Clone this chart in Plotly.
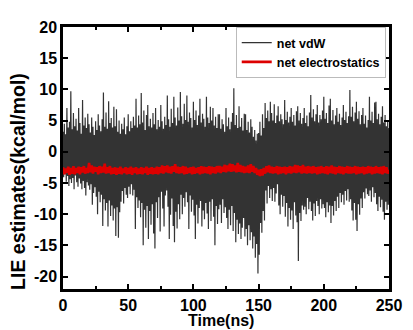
import plotly.graph_objects as go

# ---- data ----
vdw_step_ns = 0.5
vdw_values = [
    3.2, -4.1, 4.5, -3.6, 2.8, -4.8, 7.0, -3.9, 3.9, -5.5,
    4.8, -4.4, 9.7, -5.0, 3.6, -4.2, 6.2, -6.0, 4.1, -3.8,
    5.3, -4.9, 3.4, -5.6, 7.0, -4.3, 4.6, -5.1, 2.9, -6.0,
    8.3, -4.7, 4.2, -5.8, 5.5, -7.0, 3.8, -4.9, 6.1, -5.4,
    4.4, -6.1, 3.1, -5.2, 5.5, -8.5, 4.0, -6.6, 2.7, -5.7,
    4.9, -7.2, 3.5, -10.0, 6.0, -6.4, 4.2, -8.1, 3.3, -6.9,
    5.2, -11.9, 9.5, -7.6, 4.0, -9.4, 6.3, -8.2, 3.7, -12.0,
    8.1, -7.8, 4.6, -10.3, 5.4, -8.6, 3.9, -11.0, 7.2, -9.1,
    4.1, -13.5, 6.8, -8.9, 3.2, -13.8, 5.0, -9.7, 2.9, -8.0,
    4.5, -6.3, 3.6, -8.3, 5.5, -5.8, 2.8, -6.9, 4.1, -7.4,
    6.0, -5.6, 3.3, -6.8, 4.9, -5.2, 3.8, -7.0, 5.6, -6.1,
    4.2, -12.4, 8.5, -7.3, 3.9, -9.0, 5.8, -7.8, 4.4, -10.5,
    9.4, -8.2, 4.7, -15.0, 6.6, -9.3, 3.5, -12.2, 5.9, -8.7,
    7.5, -14.0, 4.1, -9.5, 5.3, -11.7, 3.9, -8.4, 6.2, -13.1,
    4.4, -15.5, 7.0, -8.1, 3.6, -10.6, 5.1, -7.3, 4.0, -12.8,
    7.5, -6.4, 4.9, -9.1, 3.7, -12.0, 5.6, -7.0, 4.3, -6.2,
    9.0, -8.8, 5.2, -14.0, 4.0, -10.1, 6.9, -7.5, 4.6, -11.9,
    8.8, -14.5, 5.5, -9.6, 4.2, -12.3, 7.1, -8.4, 5.0, -10.8,
    9.6, -6.9, 5.7, -10.0, 4.5, -7.4, 7.7, -8.8, 5.1, -6.5,
    9.0, -8.1, 4.8, -12.4, 6.3, -7.0, 5.4, -9.6, 3.9, -7.7,
    8.0, -10.2, 5.1, -14.0, 6.6, -8.5, 4.3, -11.5, 5.8, -9.0,
    8.5, -7.9, 4.7, -12.0, 6.1, -9.4, 5.3, -10.8, 4.0, -8.2,
    8.8, -9.9, 5.5, -12.4, 4.6, -8.0, 7.2, -11.1, 5.0, -7.6,
    7.0, -10.4, 4.2, -15.0, 5.6, -8.7, 3.8, -11.6, 6.0, -9.2,
    6.0, -8.5, 3.7, -11.4, 5.2, -7.6, 4.4, -9.8, 3.2, -8.9,
    7.0, -10.6, 4.1, -12.4, 5.5, -9.3, 3.6, -11.8, 4.8, -8.7,
    6.2, -12.7, 10.2, -9.8, 4.3, -14.5, 5.9, -10.9, 3.8, -13.2,
    7.3, -11.5, 4.0, -14.0, 5.4, -12.2, 3.4, -10.6, 6.1, -13.6,
    6.0, -12.4, 3.5, -15.0, 4.8, -11.8, 3.1, -14.2, 5.2, -12.9,
    4.0, -15.5, 2.4, -13.6, 3.5, -17.0, 1.8, -14.8, 2.9, -19.5,
    3.0, -16.5, 4.8, -11.4, 2.6, -13.0, 6.0, -9.5, 3.8, -11.0,
    7.8, -6.2, 5.4, -8.3, 6.6, -5.5, 4.9, -7.4, 8.0, -6.0,
    6.2, -7.9, 5.0, -5.8, 7.6, -8.0, 4.6, -6.7, 5.8, -5.2,
    7.3, -8.6, 4.9, -10.0, 6.0, -6.9, 5.2, -8.8, 4.4, -7.1,
    8.3, -10.4, 5.1, -8.2, 6.4, -12.0, 4.7, -9.0, 5.6, -10.9,
    7.0, -9.4, 4.8, -12.4, 5.9, -8.1, 4.2, -10.2, 6.5, -11.3,
    7.3, -17.5, 5.0, -9.8, 6.2, -11.1, 4.5, -8.6, 5.4, -9.3,
    7.0, -8.8, 4.6, -10.0, 5.8, -7.4, 4.1, -9.2, 6.3, -8.0,
    9.1, -9.5, 5.5, -11.0, 6.8, -8.3, 4.9, -10.3, 6.0, -7.9,
    7.5, -8.7, 4.7, -10.0, 5.9, -7.6, 5.2, -9.1, 6.6, -8.4,
    8.8, -9.0, 5.3, -10.5, 6.2, -8.1, 4.6, -9.7, 7.4, -8.6,
    8.5, -11.4, 5.0, -8.7, 6.7, -10.2, 4.4, -7.9, 5.8, -9.5,
    7.0, -7.2, 4.8, -9.0, 6.1, -6.6, 4.3, -8.1, 5.5, -6.9,
    7.5, -8.5, 5.1, -6.3, 6.4, -7.8, 4.6, -6.0, 5.7, -8.0,
    9.9, -7.6, 5.6, -9.4, 7.2, -11.0, 4.9, -8.2, 6.3, -10.9,
    8.0, -12.7, 5.3, -8.4, 6.5, -10.1, 4.4, -7.5, 5.9, -9.0,
    7.0, -6.5, 4.5, -7.5, 5.8, -5.9, 3.9, -6.8, 5.1, -7.1,
    8.8, -6.2, 5.0, -8.0, 6.4, -5.7, 4.6, -7.3, 7.9, -6.6,
    8.0, -8.4, 5.2, -9.5, 6.1, -7.2, 4.4, -8.9, 5.6, -7.7,
    7.3, -9.6, 4.7, -10.9, 5.9, -8.0, 4.1, -9.3, 5.0, -8.5,
    3.8,
]

elec_step_ns = 1.0
elec_values = [
    -2.5, -3.6, -2.7, -3.4, -2.4, -3.7, -2.6, -3.5, -2.3, -3.6,
    -2.6, -3.4, -2.4, -3.6, -2.5, -3.3, -2.3, -3.5, -2.6, -3.4,
    -1.8, -3.3, -2.2, -3.5, -2.4, -3.2, -2.5, -3.6, -2.3, -3.4,
    -2.4, -3.3, -1.9, -3.5, -2.5, -3.4, -2.3, -3.6, -2.6, -3.5,
    -2.5, -3.7, -2.6, -3.5, -2.4, -3.6, -2.7, -3.4, -2.5, -3.6,
    -2.6, -3.5, -2.4, -3.7, -2.6, -3.4, -2.5, -3.6, -2.7, -3.5,
    -2.5, -3.6, -2.6, -3.4, -2.4, -3.7, -2.6, -3.5, -2.5, -3.6,
    -2.6, -3.5, -2.4, -3.6, -2.5, -3.4, -2.2, -3.5, -2.3, -3.3,
    -2.2, -3.4, -2.4, -3.5, -2.3, -3.2, -2.0, -3.4, -2.4, -3.5,
    -2.5, -3.4, -2.3, -3.6, -2.4, -3.5, -2.6, -3.4, -2.5, -3.6,
    -2.4, -3.5, -2.6, -3.4, -2.5, -3.6, -2.3, -3.5, -2.4, -3.4,
    -2.5, -3.5, -2.3, -3.6, -2.4, -3.4, -2.5, -3.5, -2.3, -3.3,
    -2.3, -3.4, -2.4, -3.2, -2.1, -3.3, -2.2, -3.1, -1.9, -3.2,
    -2.0, -3.1, -2.2, -3.3, -1.8, -3.2, -2.1, -3.3, -2.3, -3.4,
    -2.4, -3.3, -2.2, -3.4, -2.0, -3.2, -2.3, -3.4, -2.6, -3.7,
    -2.9, -3.9, -2.8, -3.8, -2.6, -3.5, -2.3, -3.3, -2.2, -3.4,
    -2.4, -3.5, -2.5, -3.4, -2.3, -3.6, -2.4, -3.5, -2.5, -3.4,
    -2.4, -3.6, -2.5, -3.4, -2.3, -3.5, -2.4, -3.3, -2.1, -3.4,
    -2.2, -3.3, -2.3, -3.5, -2.1, -3.4, -2.4, -3.5, -2.3, -3.4,
    -2.4, -3.5, -2.3, -3.4, -2.5, -3.6, -2.4, -3.5, -2.3, -3.4,
    -2.5, -3.5, -2.3, -3.6, -2.4, -3.4, -2.2, -3.5, -2.4, -3.6,
    -2.5, -3.4, -2.3, -3.5, -2.4, -3.6, -2.5, -3.4, -2.3, -3.5,
    -2.4, -3.5, -2.5, -3.4, -2.3, -3.6, -2.4, -3.5, -2.5, -3.4,
    -2.4, -3.6, -2.5, -3.5, -2.3, -3.4, -2.4, -3.6, -2.5, -3.5,
    -2.3, -3.4, -2.5, -3.5, -2.4, -3.6, -2.3, -3.4, -2.5, -3.5,
    -2.9,
]

x_ticks = [0, 50, 100, 150, 200, 250]
y_ticks = [20, 15, 10, 5, 0, -5, -10, -15, -20]

vdw_time = [i * vdw_step_ns for i in range(len(vdw_values))]
elec_time = [i * elec_step_ns for i in range(len(elec_values))]

FONT = "Liberation Sans, Arial, sans-serif"


def bold(v):
    return "<b>%s</b>" % v


fig = go.Figure()
fig.add_trace(go.Scatter(
    x=vdw_time, y=vdw_values, mode="lines", name=bold("net vdW"),
    line=dict(color="#333333", width=1.2),
))
fig.add_trace(go.Scatter(
    x=elec_time, y=elec_values, mode="lines", name=bold("net electrostatics"),
    line=dict(color="#dd0000", width=2.6),
))

axis_common = dict(
    showgrid=False, zeroline=False,
    showline=True, linecolor="black", linewidth=2.5, mirror="ticks",
    ticks="inside", ticklen=5, tickwidth=2, tickcolor="black",
    tickfont=dict(family=FONT, size=16, color="black"),
)

# the page body adds an 8px margin, so the figure is drawn 8px smaller
fig.update_layout(
    width=405, height=322,
    margin=dict(l=55, r=16, t=11, b=41),
    paper_bgcolor="white", plot_bgcolor="white",
    font=dict(family=FONT, color="black"),
    xaxis=dict(range=[0, 250], tickvals=x_ticks,
               ticktext=[bold(v) for v in x_ticks],
               minor=dict(ticks="inside", ticklen=3, tickwidth=1.5,
                          tickcolor="black", dtick=25, tick0=0),
               **axis_common),
    yaxis=dict(range=[-22, 20], tickvals=y_ticks,
               ticktext=[bold(v) for v in y_ticks], **axis_common),
    showlegend=True,
    legend=dict(
        x=0.99, y=1.0, xanchor="right", yanchor="top",
        bgcolor="white", bordercolor="#bbbbbb", borderwidth=1,
        font=dict(family=FONT, size=12.5, color="black"),
        itemwidth=30, tracegroupgap=0,
    ),
    annotations=[
        dict(text=bold("LIE estimates(kcal/mol)"), textangle=-90,
             xref="paper", yref="paper", x=-0.14, y=0.41,
             xanchor="center", yanchor="middle", showarrow=False,
             font=dict(family=FONT, size=19.5, color="black")),
        dict(text=bold("Time(ns)"),
             xref="paper", yref="paper", x=0.485, y=-0.12,
             xanchor="center", yanchor="middle", showarrow=False,
             font=dict(family=FONT, size=16, color="black")),
    ],
)

fig.write_html("out.html")
